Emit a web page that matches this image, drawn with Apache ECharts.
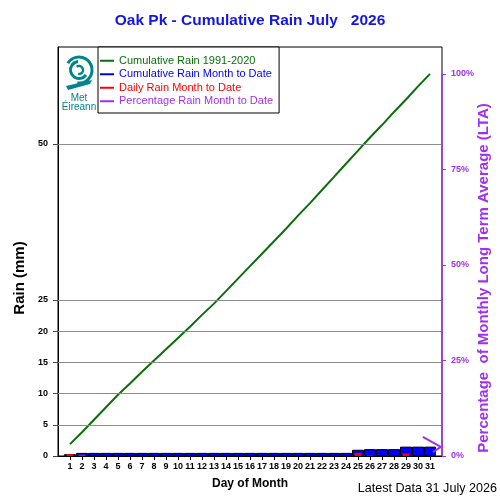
<!DOCTYPE html>
<html>
<head>
<meta charset="utf-8">
<script src="https://cdn.jsdelivr.net/npm/echarts@6/dist/echarts.min.js"></script>
<style>
  html, body { margin: 0; padding: 0; background: #fff; }
  #chart { width: 500px; height: 500px; }
</style>
</head>
<body>
<div id="chart"></div>
<script>
// day of month
var days = [1, 2, 3, 4, 5, 6, 7, 8, 9, 10, 11, 12, 13, 14, 15, 16, 17, 18, 19, 20,
            21, 22, 23, 24, 25, 26, 27, 28, 29, 30, 31];
// cumulative long term average 1991-2020 (mm)
var ltaCum = [1.9, 3.8, 5.8, 7.8, 9.8, 11.6, 13.5, 15.3, 17.1, 18.9, 20.7, 22.6, 24.4, 26.4, 28.4,
              30.4, 32.4, 34.4, 36.4, 38.5, 40.5, 42.6, 44.7, 46.8, 48.9, 51.0, 53.0, 55.1, 57.1, 59.2, 61.2];
// cumulative rain month to date (mm)
var mtdCum = [0.3, 0.5, 0.5, 0.5, 0.5, 0.5, 0.5, 0.5, 0.5, 0.5, 0.5, 0.5, 0.5, 0.5, 0.5,
              0.5, 0.5, 0.5, 0.5, 0.5, 0.5, 0.5, 0.5, 0.5, 1.0, 1.1, 1.1, 1.1, 1.5, 1.5, 1.5];
// daily rain (mm)
var dailyRain = [0.3, 0.2, 0, 0, 0, 0, 0, 0, 0, 0, 0, 0, 0, 0, 0,
                 0, 0, 0, 0, 0, 0, 0, 0, 0, 0.5, 0.1, 0, 0, 0.4, 0, 0];
// percentage line (as drawn at the end of the month)
var pctDay = [30.4, 31.9, 31.25];
var pctValue = [5.0, 2.4, 1.0];

var leftTicks = [0, 5, 10, 15, 20, 25, 50];
var gridLines = [5, 10, 15, 20, 25, 50];
var rightTicks = [0, 25, 50, 75, 100];
var ltaTotal = 61.2;
var yMax = 65.5;
var xMax = 32;

var purple = '#a030f0';
var green = '#0a6e0a';
var blue = '#0000ff';
var red = '#ff0000';
var teal = '#00868a';

function pairs(xs, ys) {
  var out = [];
  for (var i = 0; i < xs.length; i++) out.push([xs[i], ys[i]]);
  return out;
}

var chart = echarts.init(document.getElementById('chart'));
var option = {
  animation: false,
  backgroundColor: '#fff',
  textStyle: { fontFamily: 'Liberation Sans' },
  title: {
    text: 'Oak Pk - Cumulative Rain July   2026',
    left: 'center',
    top: 8,
    textStyle: { fontSize: 15.5, fontWeight: 'bold', color: '#1414e6', fontFamily: 'Liberation Sans' }
  },
  grid: {
    left: 58, right: 58, top: 47, bottom: 44,
    show: true, borderColor: '#000', borderWidth: 1
  },
  legend: {
    orient: 'vertical',
    left: 98, top: 47,
    backgroundColor: '#fff',
    borderColor: '#000', borderWidth: 1,
    padding: [7, 6, 5, 2],
    itemGap: 0,
    itemWidth: 14, itemHeight: 2,
    icon: 'rect',
    textStyle: { fontSize: 11, lineHeight: 13.5, fontFamily: 'Liberation Sans' },
    data: [
      { name: 'Cumulative Rain 1991-2020', textStyle: { color: green }, itemStyle: { color: green } },
      { name: 'Cumulative Rain Month to Date', textStyle: { color: blue }, itemStyle: { color: blue, borderWidth: 0 } },
      { name: 'Daily Rain Month to Date', textStyle: { color: red }, itemStyle: { color: red } },
      { name: 'Percentage Rain Month to Date', textStyle: { color: purple }, itemStyle: { color: purple } }
    ]
  },
  xAxis: [{
    type: 'value', min: 0, max: xMax, interval: 1,
    name: 'Day of Month', nameLocation: 'middle', nameGap: 22,
    nameTextStyle: { fontSize: 12, fontWeight: 'bold', color: '#000' },
    axisLine: { lineStyle: { color: '#000' } },
    axisTick: { customValues: days, length: 4, lineStyle: { color: '#000' } },
    axisLabel: { customValues: days, fontSize: 9, fontWeight: 'bold', color: '#000', margin: 6 },
    splitLine: { show: false }
  }, {
    type: 'value', min: 0, max: xMax, show: false
  }],
  yAxis: [{
    type: 'value', min: 0, max: yMax,
    position: 'left',
    axisLine: { show: true, onZero: false, lineStyle: { color: '#000' } },
    axisTick: { show: true, customValues: leftTicks, length: 5, lineStyle: { color: '#444' } },
    axisLabel: { customValues: leftTicks, fontSize: 9, fontWeight: 'bold', color: '#000', margin: 10 },
    splitLine: { show: false }
  }, {
    type: 'value', min: 0, max: yMax / ltaTotal * 100,
    position: 'right',
    axisLine: { show: false, onZero: false },
    axisTick: { show: true, customValues: rightTicks, length: 4, lineStyle: { color: purple } },
    axisLabel: { customValues: rightTicks, formatter: '{value}%', fontSize: 9, fontWeight: 'bold', color: purple, margin: 9 },
    splitLine: { show: false }
  }],
  graphic: [
    { type: 'text', x: 20, y: 278, rotation: Math.PI / 2,
      style: { text: 'Rain (mm)', font: 'bold 15px Liberation Sans', fill: '#000', textAlign: 'center', textVerticalAlign: 'middle' } },
    { type: 'text', x: 484, y: 278, rotation: Math.PI / 2,
      style: { text: 'Percentage  of Monthly Long Term Average (LTA)', font: 'bold 15px Liberation Sans', fill: purple, textAlign: 'center', textVerticalAlign: 'middle' } },
    { type: 'text', x: 497, y: 489,
      style: { text: 'Latest Data 31 July 2026', font: '12.6px Liberation Sans', fill: '#000', textAlign: 'right', textVerticalAlign: 'middle' } },
    // Met Eireann logo
    { type: 'arc', shape: { cx: 79, cy: 70, r: 13, startAngle: -2.6, endAngle: 1.7 }, style: { stroke: teal, lineWidth: 3, fill: null } },
    { type: 'arc', shape: { cx: 79, cy: 70, r: 8.5, startAngle: 0.6, endAngle: 4.6 }, style: { stroke: teal, lineWidth: 3, fill: null } },
    { type: 'arc', shape: { cx: 79, cy: 70, r: 4, startAngle: -2.2, endAngle: 1.8 }, style: { stroke: teal, lineWidth: 2.5, fill: null } },
    { type: 'polygon', shape: { points: [[66, 86], [92, 80], [90, 84], [68, 90]] }, style: { fill: teal } },
    { type: 'text', x: 79, y: 98,
      style: { text: 'Met', font: '10px Liberation Sans', fill: teal, textAlign: 'center', textVerticalAlign: 'middle' } },
    { type: 'text', x: 79, y: 107,
      style: { text: 'Éireann', font: '10px Liberation Sans', fill: teal, textAlign: 'center', textVerticalAlign: 'middle' } }
  ],
  series: [{
    name: 'Cumulative Rain Month to Date',
    type: 'bar',
    xAxisIndex: 0, yAxisIndex: 0,
    barWidth: 12,
    itemStyle: { color: blue, borderColor: '#000', borderWidth: 1 },
    data: pairs(days, mtdCum),
    markLine: {
      silent: true, symbol: 'none',
      label: { show: false },
      lineStyle: { color: '#8c8c8c', type: 'solid', width: 1.2 },
      data: gridLines.map(function (v) { return { yAxis: v }; })
    },
    z: 2
  }, {
    name: 'Daily Rain Month to Date',
    type: 'bar',
    xAxisIndex: 1, yAxisIndex: 0,
    barWidth: 7,
    itemStyle: { color: red },
    data: pairs(days, dailyRain),
    z: 3
  }, {
    name: 'Cumulative Rain 1991-2020',
    type: 'line',
    xAxisIndex: 0, yAxisIndex: 0,
    symbol: 'none',
    lineStyle: { color: green, width: 2 },
    itemStyle: { color: green },
    data: pairs(days, ltaCum),
    z: 4
  }, {
    name: 'Percentage Rain Month to Date',
    type: 'line',
    xAxisIndex: 0, yAxisIndex: 1,
    symbol: 'none',
    lineStyle: { color: purple, width: 2 },
    itemStyle: { color: purple },
    data: pairs(pctDay, pctValue),
    // right axis line, drawn only from 0% to 100%
    markLine: {
      silent: true, symbol: 'none',
      label: { show: false },
      lineStyle: { color: purple, type: 'solid', width: 1.5 },
      data: [[{ coord: [xMax, 0] }, { coord: [xMax, 100] }]]
    },
    z: 5
  }]
};
chart.setOption(option);
</script>
</body>
</html>
